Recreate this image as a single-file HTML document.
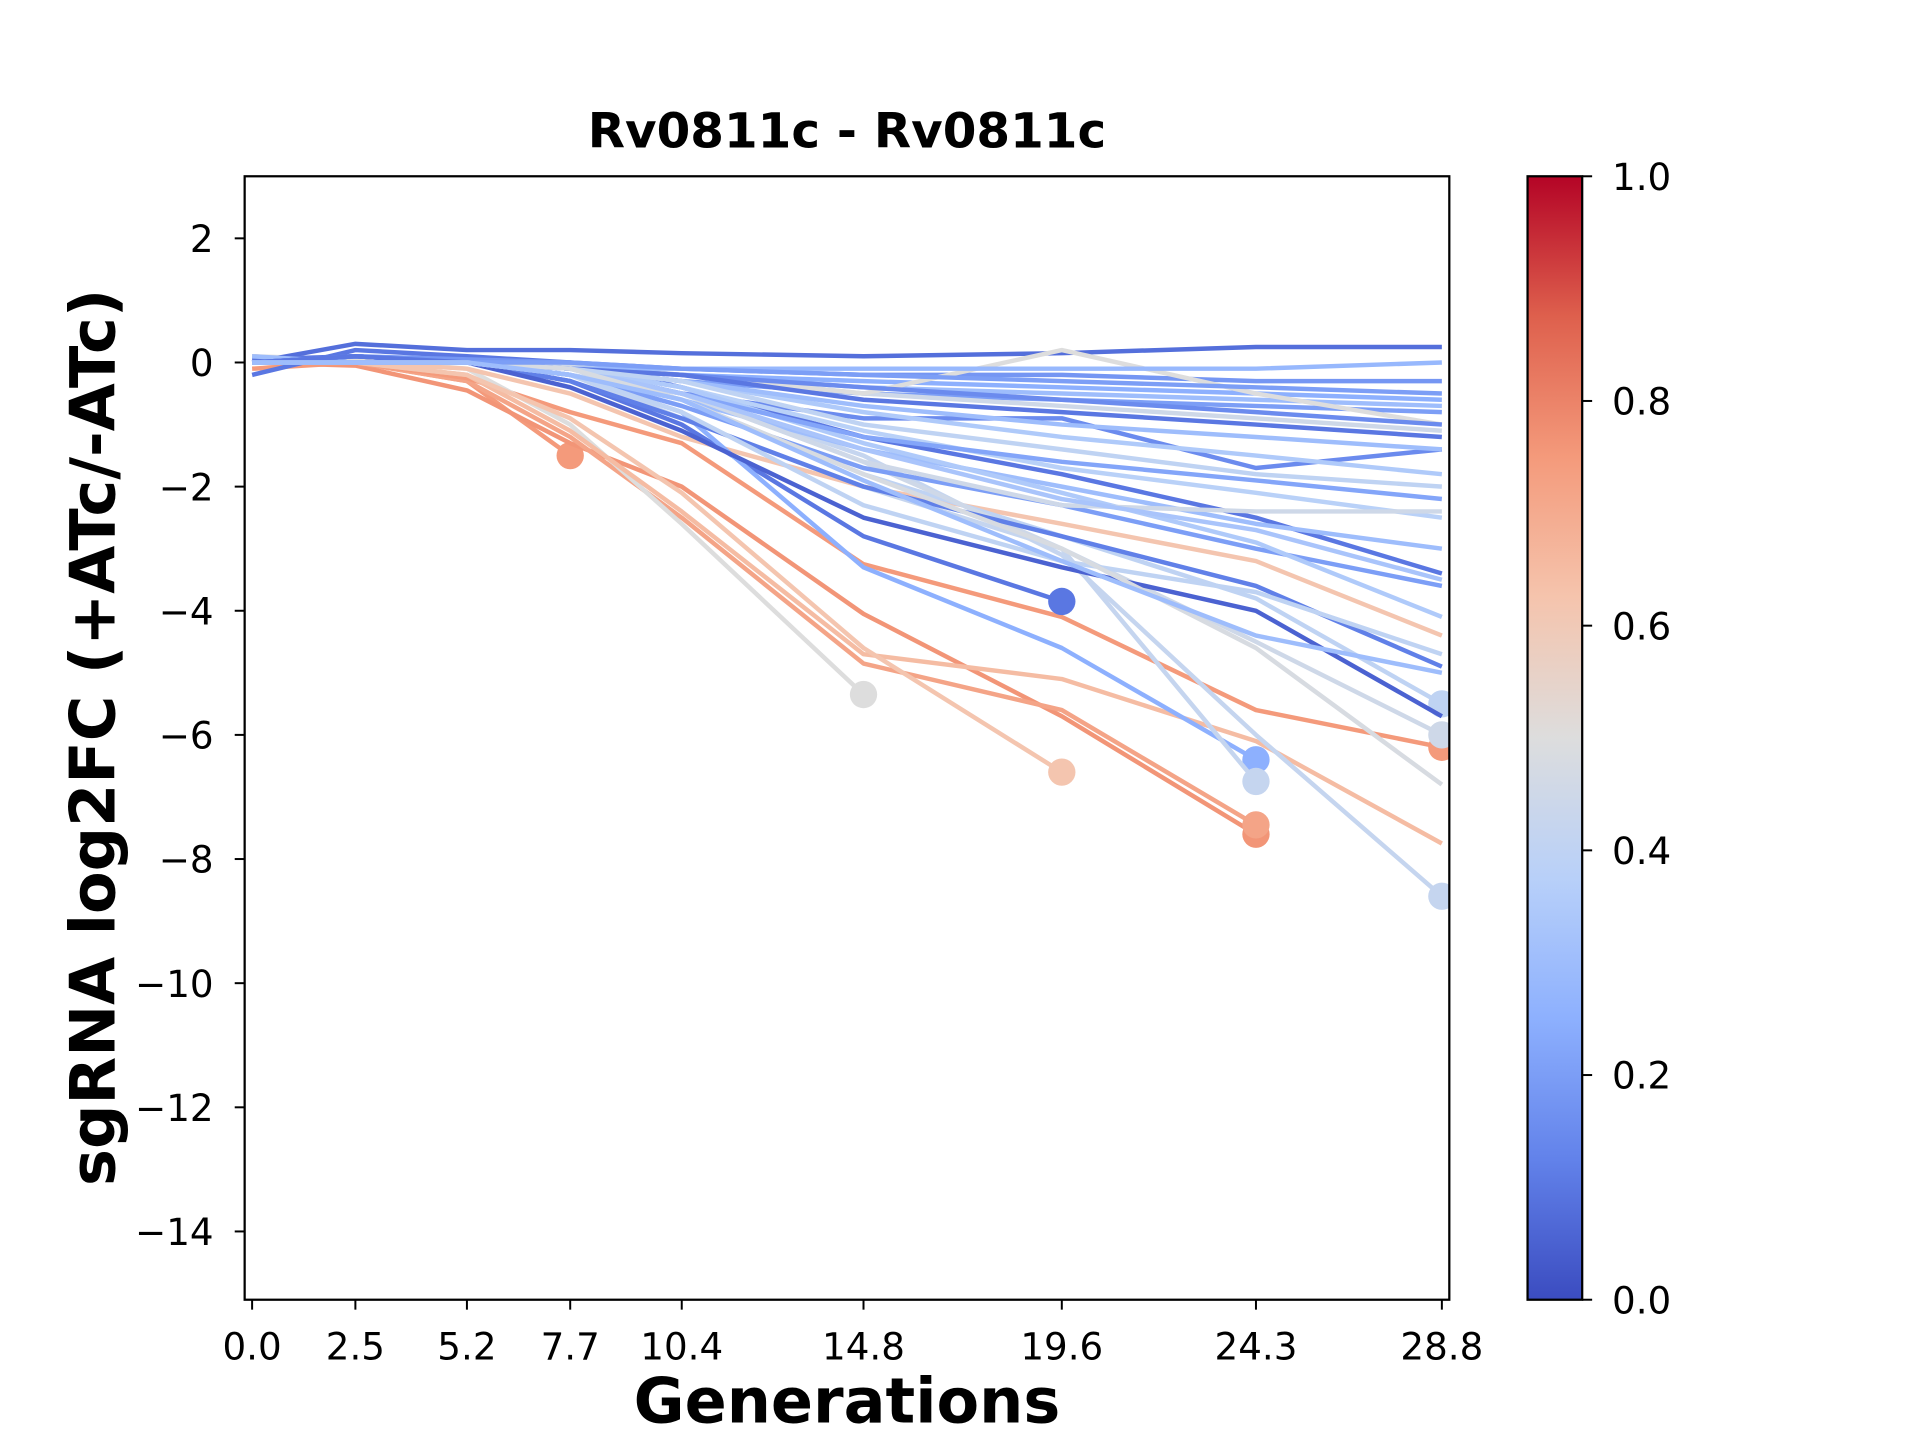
<!DOCTYPE html>
<html><head><meta charset="utf-8"><style>
html,body{margin:0;padding:0;background:#fff;}
svg{display:block;font-family:"DejaVu Sans","Liberation Sans",sans-serif;}
</style></head><body>
<svg id="chart" width="1920" height="1440" viewBox="0 0 1546 1160" preserveAspectRatio="none" xmlns="http://www.w3.org/2000/svg">
<defs>
<linearGradient id="cbgrad" x1="0" y1="1" x2="0" y2="0">
<stop offset="0" stop-color="rgb(59,76,192)"/><stop offset="0.125" stop-color="rgb(98,130,234)"/>
<stop offset="0.25" stop-color="rgb(141,176,254)"/><stop offset="0.375" stop-color="rgb(184,208,249)"/>
<stop offset="0.5" stop-color="rgb(221,221,221)"/><stop offset="0.625" stop-color="rgb(245,196,173)"/>
<stop offset="0.75" stop-color="rgb(244,154,123)"/><stop offset="0.875" stop-color="rgb(222,96,77)"/>
<stop offset="1" stop-color="rgb(180,4,38)"/>
</linearGradient>
<clipPath id="plotclip"><rect x="197" y="142" width="970" height="905"/></clipPath>
</defs>
<text x="682" y="119" text-anchor="middle" font-size="39" font-weight="bold">Rv0811c - Rv0811c</text>
<g id="lines" clip-path="url(#plotclip)"></g>
<rect x="197" y="142" width="970" height="905" fill="none" stroke="#000" stroke-width="1.8"/>
<g id="xticks"></g><g id="yticks"></g>
<text x="682" y="1146" text-anchor="middle" font-size="50" font-weight="bold">Generations</text>
<text transform="translate(92,594) rotate(-90)" text-anchor="middle" font-size="50" font-weight="bold">sgRNA log2FC (+ATc/-ATc)</text>
<rect x="1230" y="142" width="44" height="905" fill="url(#cbgrad)" stroke="#000" stroke-width="1.8"/>
<g id="cbticks"></g>
</svg>
<script>
const xCategories = [0.0, 2.5, 5.2, 7.7, 10.4, 14.8, 19.6, 24.3, 28.8];
const xTickLabels = ["0.0","2.5","5.2","7.7","10.4","14.8","19.6","24.3","28.8"];
const yTickValues = [2, 0, -2, -4, -6, -8, -10, -12, -14];
const cbTickValues = [0.0, 0.2, 0.4, 0.6, 0.8, 1.0];
const seriesColors = [0.75,0.76,0.72,0.75,0.5,0.65,0.62,0.62,0.1,0.25,0.42,0.42,0.4,0.45,
 0.08,0.1,0.15,0.2,0.3,0.35,0.38,0.45,0.3,0.2,0.12,0.05,0.35,0.4,0.25,0.18,0.5,0.3,0.22,0.15,0.45,0.33,0.28,0.1,0.4,0.48,0.2,0.3];
const seriesValues = [
 [0.1,0,-0.3,-1.5],
 [0.0,-0.05,-0.45,-1.3,-2.0,-4.05,-5.7,-7.6],
 [0.05,0,-0.3,-1.2,-2.5,-4.85,-5.6,-7.45],
 [-0.1,0,-0.25,-0.8,-1.3,-3.25,-4.1,-5.6,-6.2],
 [0.1,0.05,-0.1,-1.0,-2.6,-5.35],
 [0,0,-0.2,-1.1,-2.4,-4.7,-5.1,-6.1,-7.75],
 [0,0,-0.2,-0.9,-2.1,-4.6,-6.6],
 [0,0,-0.1,-0.5,-1.2,-2.0,-2.6,-3.2,-4.4],
 [0.05,0.1,0,-0.3,-1.0,-2.8,-3.85],
 [0,0,0,-0.2,-0.8,-3.3,-4.6,-6.4],
 [0,0,0,-0.2,-0.9,-2.0,-3.0,-6.75],
 [0,0,0,-0.1,-0.5,-1.5,-3.1,-6.0,-8.6],
 [0,0,0,-0.1,-0.6,-1.8,-2.8,-3.8,-5.5],
 [0,0,0,-0.1,-0.5,-1.6,-3.0,-4.5,-6.0],
 [0,0.3,0.2,0.2,0.15,0.1,0.15,0.25,0.25],
 [-0.2,0.2,0.1,0,-0.4,-1.2,-1.8,-2.5,-3.4],
 [0,0.1,0,-0.1,-0.5,-0.9,-0.9,-1.7,-1.4],
 [0,0.1,0,-0.1,-0.3,-0.5,-0.6,-0.7,-0.8],
 [0.1,0,0,-0.05,-0.2,-0.4,-0.5,-0.6,-0.7],
 [0,0,0,-0.1,-0.3,-0.8,-1.2,-1.5,-1.8],
 [0,0,0,-0.1,-0.4,-1.1,-1.7,-2.1,-2.5],
 [0,0,0,-0.05,-0.2,-0.5,-0.7,-0.9,-1.1],
 [0,0,0,-0.2,-0.6,-1.4,-2.0,-2.6,-3.0],
 [0,0,0,-0.2,-0.7,-1.7,-2.3,-3.0,-3.6],
 [0,0.1,0,-0.3,-0.9,-2.0,-2.8,-3.6,-4.9],
 [0,0.1,0,-0.4,-1.1,-2.5,-3.3,-4.0,-5.7],
 [0,0,0,-0.1,-0.4,-1.3,-2.1,-2.9,-4.1],
 [0,0,0,-0.2,-0.8,-2.3,-3.2,-3.7,-4.7],
 [0,0,0,-0.1,-0.2,-0.3,-0.4,-0.5,-0.6],
 [0,0.1,0.05,0,-0.1,-0.2,-0.2,-0.3,-0.3],
 [0,0,0,-0.1,-0.2,-0.5,0.2,-0.5,-1.0],
 [0,0,0,-0.1,-0.3,-0.7,-1.0,-1.2,-1.4],
 [0,0,0,-0.2,-0.5,-1.2,-1.6,-1.9,-2.2],
 [0,0,0,-0.1,-0.2,-0.4,-0.6,-0.8,-1.0],
 [0,0,0,-0.2,-0.5,-1.6,-2.3,-2.4,-2.4],
 [0,0,0,-0.1,-0.5,-1.4,-2.2,-2.7,-3.5],
 [0,0,0,-0.1,-0.1,-0.1,-0.1,-0.1,0.0],
 [0,0.1,0,-0.1,-0.2,-0.6,-0.8,-1.0,-1.2],
 [0,0,0,-0.1,-0.3,-1.0,-1.4,-1.8,-2.0],
 [0,0,0,-0.1,-0.6,-1.8,-3.0,-4.6,-6.8],
 [0,0,0,0,-0.1,-0.2,-0.3,-0.4,-0.5],
 [0,0,0,-0.2,-0.6,-1.9,-3.2,-4.4,-5.0]
];
const seriesHasEndMarker = [true,true,true,true,true,false,true,false,true,true,true,true,true,true,
 false,false,false,false,false,false,false,false,false,false,false,false,false,false,false,false,false,false,false,false,false,false,false,false,false,false,false,false];

const NS = "http://www.w3.org/2000/svg";
const X0 = 203, X1 = 1161, XV1 = 28.8;
function xScale(v){ return X0 + (X1 - X0) * v / XV1; }
function yScale(v){ return 292 - 50 * v; }
function cbScale(v){ return 1047 - 905 * v; }
const cmapStops = [[59,76,192],[98,130,234],[141,176,254],[184,208,249],[221,221,221],[245,196,173],[244,154,123],[222,96,77],[180,4,38]];
function cmap(t){
  const p = Math.max(0, Math.min(1, t)) * 8, i = Math.min(7, Math.floor(p)), f = p - i;
  const a = cmapStops[i], b = cmapStops[i + 1];
  return "rgb(" + a.map((c, k) => Math.round(c + (b[k] - c) * f)).join(",") + ")";
}
function mk(tag, attrs, parent){ const e = document.createElementNS(NS, tag); for (const k in attrs) e.setAttribute(k, attrs[k]); parent.appendChild(e); return e; }

const gl = document.getElementById("lines");
seriesValues.forEach((vals, i) => {
  const col = cmap(seriesColors[i]);
  const pts = vals.map((v, j) => xScale(xCategories[j]).toFixed(1) + "," + yScale(v).toFixed(1)).join(" ");
  const pl = mk("polyline", {points: pts, fill: "none", stroke: col, "stroke-width": 3.6, "stroke-linejoin": "round"}, gl);
  
  
  if (seriesHasEndMarker[i]) {
    const j = vals.length - 1;
    const c = mk("circle", {cx: xScale(xCategories[j]), cy: yScale(vals[j]), r: 11, fill: col}, gl);
    
    
  }
});

const gx = document.getElementById("xticks");
xCategories.forEach((v, i) => {
  const x = xScale(v);
  const t = mk("line", {x1: x, x2: x, y1: 1047, y2: 1055, stroke: "#000", "stroke-width": 1.6}, gx);
  
  
  const l = mk("text", {x: x, y: 1095, "text-anchor": "middle", "font-size": 30}, gx);
  l.textContent = xTickLabels[i];
  
  
});
const gy = document.getElementById("yticks");
yTickValues.forEach(v => {
  const y = yScale(v);
  const t = mk("line", {x1: 189, x2: 197, y1: y, y2: y, stroke: "#000", "stroke-width": 1.6}, gy);
  
  
  const l = mk("text", {x: 172, y: y + 11, "text-anchor": "end", "font-size": 30}, gy);
  l.textContent = (v < 0 ? "\u2212" + (-v) : String(v));
  
  
});
const gc = document.getElementById("cbticks");
cbTickValues.forEach(v => {
  const y = cbScale(v);
  const t = mk("line", {x1: 1274, x2: 1282, y1: y, y2: y, stroke: "#000", "stroke-width": 1.6}, gc);
  
  
  const l = mk("text", {x: 1298, y: y + 11, "font-size": 30}, gc);
  l.textContent = v.toFixed(1);
  
  
});
</script>
</body></html>
